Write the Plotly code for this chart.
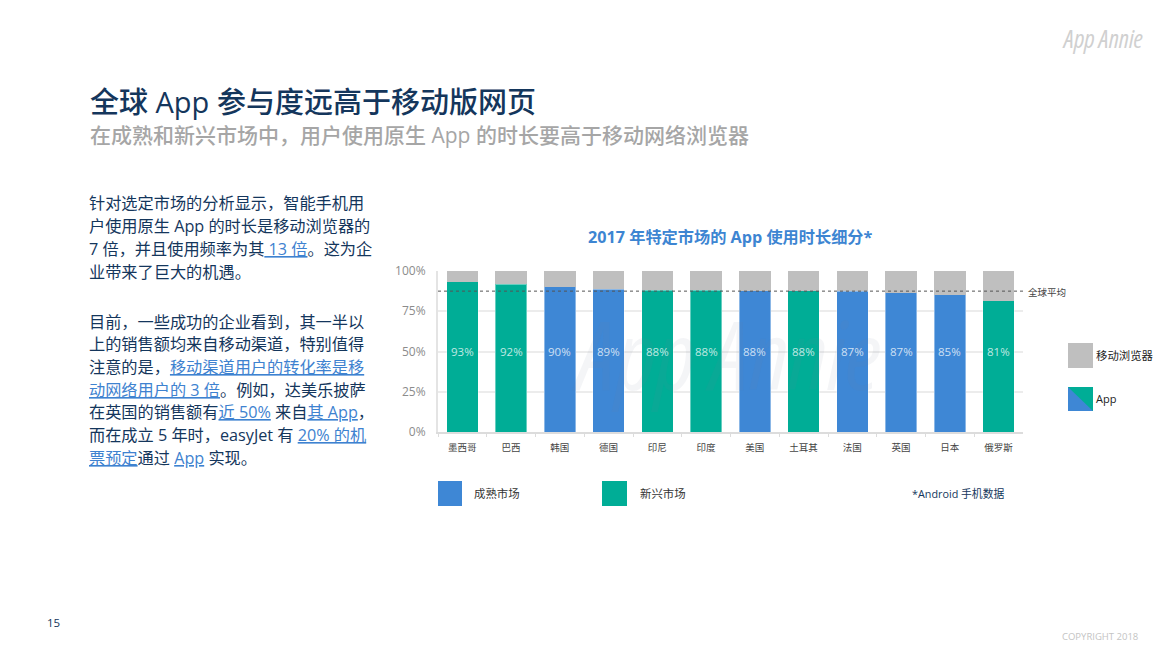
import plotly.graph_objects as go

W, H = 1165, 653
CN = "'Open Sans', 'Noto Sans CJK SC', sans-serif"

markets = ["墨西哥", "巴西", "韩国", "德国", "印尼", "印度", "美国", "土耳其", "法国", "英国", "日本", "俄罗斯"]
market_type = ["new", "new", "mature", "mature", "new", "new", "mature", "new", "mature", "mature", "mature", "new"]
app_share = [93.3, 91.9, 90.3, 88.6, 88.2, 88.0, 87.6, 87.6, 87.4, 86.5, 85.1, 81.4]
browser_share = [6.7, 8.1, 9.7, 11.4, 11.8, 12.0, 12.4, 12.4, 12.6, 13.5, 14.9, 18.6]
app_labels = ["93%", "92%", "90%", "89%", "88%", "88%", "88%", "88%", "87%", "87%", "85%", "81%"]
global_avg = 87.5
y_ticks = [0, 25, 50, 75, 100]
y_tick_labels = ["0%", "25%", "50%", "75%", "100%"]

BLUE = "#3e87d5"
GREEN = "#00ad96"
GREY = "#bfbfbf"
NAVY = "#14365c"
LINK = "#3e82d0"
type_colors = {"mature": BLUE, "new": GREEN}


def px(x):
    return x / W


def py(y):
    return 1 - y / H


def link(s):
    return f'<span style="fill:{LINK};text-decoration:underline">{s}</span>'


def logo(s):
    return f'<span style="font-style:italic;font-stretch:75%">{s}</span>'


body_lines = [
    (203, "针对选定市场的分析显示，智能手机用"),
    (226, "户使用原生 App 的时长是移动浏览器的"),
    (249, "7 倍，并且使用频率为其" + link(" 13 倍") + "。这为企"),
    (272, "业带来了巨大的机遇。"),
    (322, "目前，一些成功的企业看到，其一半以"),
    (344, "上的销售额均来自移动渠道，特别值得"),
    (367, "注意的是，" + link("移动渠道用户的转化率是移")),
    (390, link("动网络用户的 3 倍") + "。例如，达美乐披萨"),
    (412, "在英国的销售额有" + link("近 50%") + " 来自" + link("其 App") + "，"),
    (435, "而在成立 5 年时，easyJet 有 " + link("20% 的机")),
    (458, link("票预定") + "通过 " + link("App") + " 实现。"),
]

fig = go.Figure()
fig.add_trace(go.Bar(
    x=markets, y=app_share, name="App",
    marker=dict(color=[type_colors[t] for t in market_type],
                line=dict(color="rgba(255,255,255,0.4)", width=1)),
))
fig.add_trace(go.Bar(
    x=markets, y=browser_share, name="移动浏览器",
    marker=dict(color=GREY, line=dict(width=0)),
))

fig.update_layout(
    width=W, height=H, margin=dict(l=0, r=0, t=0, b=0),
    paper_bgcolor="white", plot_bgcolor="white",
    barmode="stack", bargap=0.35, showlegend=False,
    font=dict(family=CN),
    xaxis=dict(
        domain=[px(438), px(1023)], tickson="boundaries", ticks="outside", ticklen=3,
        tickcolor="#dcdcdc", showline=True, linecolor="#dcdcdc", linewidth=2,
        showgrid=False, tickfont=dict(size=9.5, color="#444444"), ticklabelstandoff=6,
        automargin=False,
    ),
    yaxis=dict(
        domain=[py(432), py(271)], range=[0, 100], tickmode="array", tickvals=y_ticks, ticktext=y_tick_labels,
        tickfont=dict(size=12, color="#8c8c8c"), gridcolor="#ececec", gridwidth=2,
        showline=True, linecolor="#e4e4e4", linewidth=2, zeroline=False,
        ticklabelstandoff=8, automargin=False,
    ),
)

# global average line
fig.add_shape(type="line", xref="x domain", yref="y", x0=0, x1=1, y0=global_avg, y1=global_avg,
              line=dict(color="#555555", width=1, dash="3px,3px"), layer="above")

# legend swatches
def swatch(x0, y0, x1, y1, color):
    fig.add_shape(type="rect", xref="paper", yref="paper", x0=px(x0), x1=px(x1), y0=py(y1), y1=py(y0),
                  fillcolor=color, line=dict(width=0))


swatch(438, 481, 462, 506, BLUE)
swatch(602, 481, 627, 506, GREEN)
swatch(1068, 343, 1093, 368, GREY)
swatch(1068, 387, 1093, 411, GREEN)
fig.add_shape(type="path", xref="paper", yref="paper",
              path=f"M {px(1068)} {py(387)} L {px(1093)} {py(411)} L {px(1068)} {py(411)} Z",
              fillcolor=BLUE, line=dict(width=0))


def label(x, y, text, size, color, anchor="left", weight=None):
    fig.add_annotation(xref="paper", yref="paper", x=px(x), y=py(y), text=text, showarrow=False,
                       xanchor=anchor, yanchor="middle", font=dict(size=size, color=color, family=CN, weight=weight),
                       borderpad=0, align="left")


# watermark goes first so the value labels draw over it
label(726, 352, logo("App Annie"), 96, "rgba(120,130,150,0.08)", anchor="center")

# value labels sit on the 50% line in every bar
for m, t in zip(markets, app_labels):
    fig.add_annotation(x=m, y=50, text=t, showarrow=False, font=dict(size=11.5, color="rgba(255,255,255,0.75)"))

label(89, 101, "全球 App 参与度远高于移动版网页", 29, NAVY, weight=500)
label(89, 135, "在成熟和新兴市场中，用户使用原生 App 的时长要高于移动网络浏览器", 21, "#a6a6a6", weight=500)
for y, line in body_lines:
    label(88, y, line, 16.2, NAVY)

label(730, 237, "<b>2017 年特定市场的 App 使用时长细分*</b>", 16.2, "#3d85d2", anchor="center")
label(1027, 292, "全球平均", 9.5, "#444444")
label(473, 493, "成熟市场", 11.4, "#333333")
label(639, 493, "新兴市场", 11.4, "#333333")
label(1095, 356, "移动浏览器", 11.4, "#222222")
label(1095, 398, "App", 11, "#222222")
label(911, 493, "*Android 手机数据", 10.8, NAVY)
label(46, 622, "15", 11.5, NAVY)
label(1061, 636, "COPYRIGHT 2018", 9.5, "#c4c4c4")
label(1061, 38, logo("App Annie"), 25, "#d0d0d0")

fig.write_html("out.html", config=dict(displayModeBar=False),
               post_script="document.body.style.margin='0'")
